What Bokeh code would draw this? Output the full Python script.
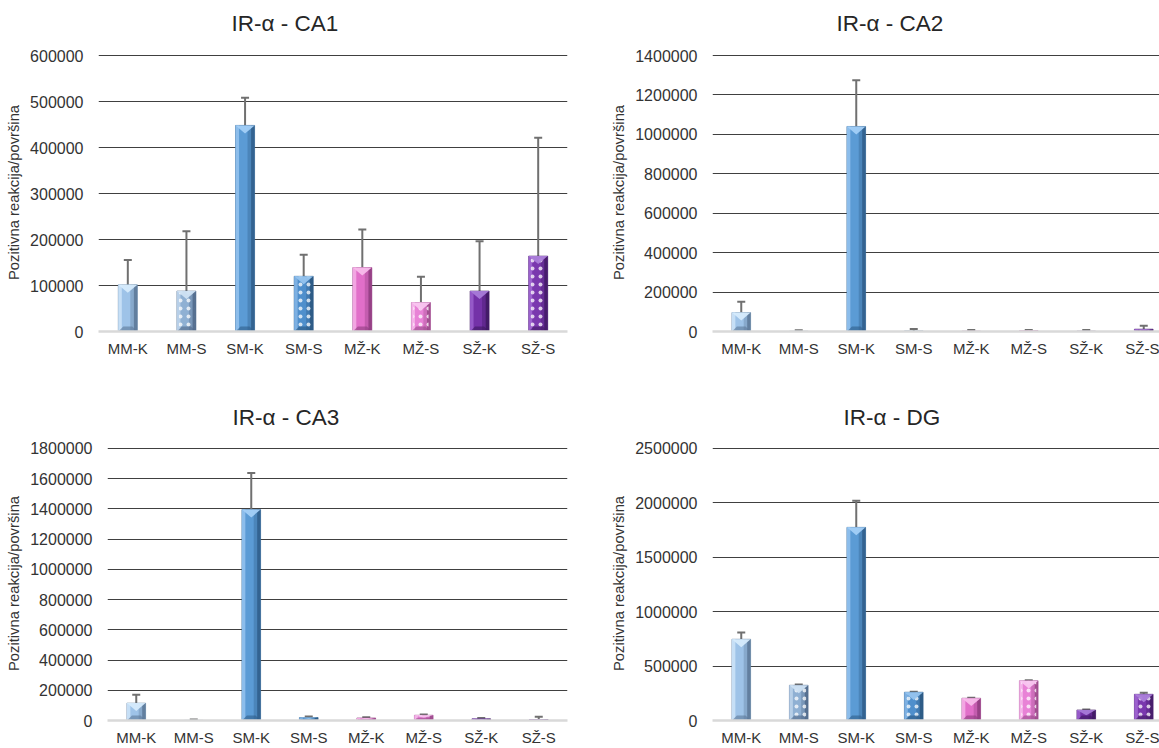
import numpy as np
from bokeh.plotting import figure
from bokeh.layouts import row, column
from bokeh.models import (ColumnDataSource, Range1d, FixedTicker, Whisker, TeeHead,
                          BasicTickFormatter, Title)
from bokeh.transform import dodge
from bokeh.embed import file_html
from bokeh.resources import INLINE

# ---------------- data ----------------
categories = ["MM-K", "MM-S", "SM-K", "SM-S", "MŽ-K", "MŽ-S", "SŽ-K", "SŽ-S"]

ca1_mean = [101500, 88000, 448000, 120000, 139000, 63000, 88000, 164000]
ca1_sd = [54000, 130000, 60000, 47000, 83000, 56000, 108000, 257000]

ca2_mean = [96000, 1500, 1040000, 3000, 2000, 4000, 2000, 12000]
ca2_sd = [55000, 5000, 234000, 10000, 5000, 3000, 5000, 17000]

ca3_mean = [115000, 1000, 1396000, 19500, 17000, 35000, 11000, 6500]
ca3_sd = [55000, 5000, 241000, 6500, 5000, 4000, 6000, 17500]

dg_mean = [747000, 324000, 1775000, 260000, 205000, 366000, 97000, 241000]
dg_sd = [61000, 6000, 245000, 5000, 4000, 5000, 5000, 15000]

titles = ["IR-α - CA1", "IR-α - CA2", "IR-α - CA3", "IR-α - DG"]
y_max = [600000, 1400000, 1800000, 2500000]
y_step = [100000, 200000, 200000, 500000]
y_label = "Pozitivna reakcija/površina"

# ---------------- styles ----------------
main_colors = ["#9EC3E8", "#8FB0D3", "#5B9BD5", "#4F8FCC", "#E16FC9", "#E882D6", "#7432A8", "#7A38AE"]
light_colors = ["#C6DFF6", "#B7CFE8", "#8CBDEB", "#7DB0E2", "#F2A6E2", "#F4B2E8", "#9559C8", "#9C61CE"]
dark_colors = ["#5B7897", "#50698A", "#2F5D8A", "#2A5680", "#8E3C7E", "#9A4A8A", "#3E1860", "#421B66"]
top_colors = ["#D6EBFC", "#CFE1F3", "#A3CFF7", "#96C4EE", "#F8BCEB", "#F9C6F0", "#A87BD8", "#AC80DA"]
dotted = [False, True, False, True, False, True, False, True]

FONT = "Liberation Sans"
TEXT = "#333333"
GRID = "#404040"
CAT_PX = 57.5


def make_panel(i, means, sds, width, height, b_left, b_right, b_top, b_bottom,
               cat_px, title_offset, spacer):
    frame_w = width - b_left - b_right
    frame_h = height - b_top - b_bottom
    ymax = y_max[i]
    y_end = ymax * frame_h / (frame_h - 2)
    x_end = frame_w / cat_px
    px_y = y_end / frame_h
    px_x = x_end / frame_w

    p = figure(width=width, height=height, output_backend="svg", toolbar_location=None,
               x_range=Range1d(0, x_end), y_range=Range1d(0, y_end),
               min_border_left=b_left, min_border_right=b_right,
               min_border_top=b_top, min_border_bottom=b_bottom,
               outline_line_color=None, background_fill_color="white",
               border_fill_color="white", title=titles[i])
    p.title.align = "left"
    p.title.offset = title_offset
    p.title.standoff = 0
    p.title.text_font = FONT
    p.title.text_font_size = "22.5px"
    p.title.text_font_style = "normal"
    p.title.text_color = "#262626"
    p.add_layout(Title(text=" ", text_font_size="1px", standoff=spacer), "above")

    n = len(categories)
    xs = np.arange(n) + 0.5
    bw = 0.325
    sw = 0.06
    means = np.array(means, dtype=float)
    sds = np.array(sds, dtype=float)

    src = ColumnDataSource(dict(
        x=xs, top=means, upper=means + sds,
        main=main_colors, light=light_colors, dark=dark_colors, topc=top_colors,
        hatch=["dot" if d else " " for d in dotted],
    ))

    # base bar
    p.vbar(x="x", top="top", bottom=0, width=bw, source=src, fill_color="main",
           line_color="dark", line_width=0.8, line_alpha=0.7)
    # left highlight & right shade
    p.vbar(x=dodge("x", -bw / 2 + sw / 2), top="top", bottom=0, width=sw, source=src,
           fill_color="light", line_color=None)
    p.vbar(x=dodge("x", bw / 2 - sw / 2), top="top", bottom=0, width=sw, source=src,
           fill_color="dark", line_color=None, fill_alpha=0.9)
    p.vbar(x=dodge("x", bw / 2 - sw * 1.5), top="top", bottom=0, width=sw, source=src,
           fill_color="dark", line_color=None, fill_alpha=0.35)
    # dotted pattern
    p.vbar(x="x", top="top", bottom=0, width=bw * 0.8, source=src, fill_alpha=0,
           line_color=None, hatch_pattern="hatch", hatch_color="white",
           hatch_scale=8, hatch_weight=0.4, hatch_alpha=0.75)
    # top / bottom bevels
    tri_xs, tri_ys, bot_xs, bot_ys = [], [], [], []
    for x, v in zip(xs, means):
        h = min(8 * px_y, v / 2)
        tri_xs.append([x - bw / 2, x + bw / 2, x])
        tri_ys.append([v, v, v - h])
        hb = min(5 * px_y, v / 2)
        d = (hb / px_y) * px_x
        bot_xs.append([x - bw / 2, x + bw / 2, x + bw / 2 - d, x - bw / 2 + d])
        bot_ys.append([0, 0, hb, hb])
    p.patches(xs=tri_xs, ys=tri_ys, fill_color=top_colors, line_color=None, fill_alpha=0.95)
    p.patches(xs=bot_xs, ys=bot_ys, fill_color=dark_colors, line_color=None, fill_alpha=0.6)

    # error bars
    p.add_layout(Whisker(source=src, base="x", lower="top", upper="upper",
                         dimension="height", line_color="#707070", line_width=2,
                         upper_head=TeeHead(size=8, line_color="#707070", line_width=2),
                         lower_head=None))

    # axes
    ticks = list(np.arange(0, ymax + 1, y_step[i]))
    p.yaxis.ticker = FixedTicker(ticks=ticks)
    p.ygrid.ticker = FixedTicker(ticks=ticks[1:])
    p.ygrid.grid_line_color = GRID
    p.ygrid.grid_line_width = 1.2
    p.xgrid.grid_line_color = None
    p.yaxis.formatter = BasicTickFormatter(use_scientific=False)
    p.yaxis.axis_line_color = None
    p.yaxis.major_tick_line_color = None
    p.yaxis.minor_tick_line_color = None
    p.yaxis.major_tick_out = 0
    p.yaxis.major_tick_in = 0
    p.yaxis.major_label_standoff = 15
    p.yaxis.major_label_text_font = FONT
    p.yaxis.major_label_text_font_size = "16px"
    p.yaxis.major_label_text_color = TEXT
    p.yaxis.axis_label = y_label
    p.yaxis.axis_label_text_font = FONT
    p.yaxis.axis_label_text_font_size = "14.8px"
    p.yaxis.axis_label_text_font_style = "normal"
    p.yaxis.axis_label_text_color = TEXT
    p.yaxis.axis_label_standoff = 5

    p.xaxis.ticker = FixedTicker(ticks=list(xs))
    p.xaxis.major_label_overrides = {float(x): c for x, c in zip(xs, categories)}
    p.xaxis.axis_line_color = "#D9D9D9"
    p.xaxis.axis_line_width = 2.5
    p.xaxis.major_tick_line_color = None
    p.xaxis.minor_tick_line_color = None
    p.xaxis.major_tick_out = 0
    p.xaxis.major_tick_in = 0
    p.xaxis.major_label_standoff = 8
    p.xaxis.major_label_text_font = FONT
    p.xaxis.major_label_text_font_size = "15px"
    p.xaxis.major_label_text_color = TEXT
    return p


p1 = make_panel(0, ca1_mean, ca1_sd, 600, 374, 98, 33, 53, 43, 469 / 8, 133, 15)
p2 = make_panel(1, ca2_mean, ca2_sd, 559, 374, 112, 0, 53, 43, CAT_PX, 124, 15)
p3 = make_panel(2, ca3_mean, ca3_sd, 600, 374, 107, 33, 72, 25, 460 / 8, 125, 14)
p4 = make_panel(3, dg_mean, dg_sd, 559, 374, 112, 0, 72, 25, CAT_PX, 131, 14)

layout = column(row(p1, p2), row(p3, p4))

open("out.html", "w").write(file_html(layout, INLINE))
